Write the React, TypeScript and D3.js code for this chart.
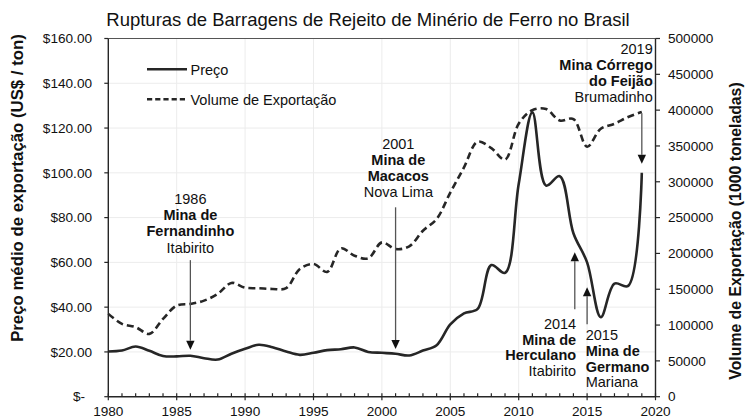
import React from "react";
import * as d3 from "d3";

const years = [1980,1981,1982,1983,1984,1985,1986,1987,1988,1989,1990,1991,1992,1993,1994,1995,1996,1997,1998,1999,2000,2001,2002,2003,2004,2005,2006,2007,2008,2009,2010,2011,2012,2013,2014,2015,2016,2017,2018,2019];
const price = [20.2,20.6,22.4,20.5,18.2,18.0,18.3,17.2,16.6,19.2,21.4,23.2,22.1,20.2,18.7,19.6,20.8,21.2,22.0,20.0,19.6,19.2,18.4,20.6,23.0,32.3,37.2,39.2,58.8,55.3,95.0,127.0,94.3,98.5,73.0,60.0,35.5,50.5,49.5,100.0];
const volume = [115600,101700,97000,87700,108600,127200,129500,134100,143500,158800,152200,151400,150400,151500,178300,185200,174100,207100,196800,193200,215400,206100,209900,231700,248000,285000,320000,356000,347000,331000,381000,400000,401500,385500,387500,349000,374000,381000,390400,397400];

const xTicks = [1980,1985,1990,1995,2000,2005,2010,2015,2020];
const priceTicks = [0,20,40,60,80,100,120,140,160];
const priceTickLabels = ["$-","$20.00","$40.00","$60.00","$80.00","$100.00","$120.00","$140.00","$160.00"];
const volumeTicks = [0,50000,100000,150000,200000,250000,300000,350000,400000,450000,500000];

const title = "Rupturas de Barragens de Rejeito de Minério de Ferro no Brasil";
const leftTitle = "Preço médio de exportação (US$ / ton)";
const rightTitle = "Volume de Exportação (1000 toneladas)";
const legendLabels = ["Preço", "Volume de Exportação"];

type Ann = { year: number; lines: string[]; bold: boolean[]; from: number; to: number; tx: number; ty: number; anchor: string; dy: number };
const annotations: Ann[] = [
  { year: 1986, lines: ["1986", "Mina de", "Fernandinho", "Itabirito"], bold: [false, true, true, false], from: 61, to: 21, tx: 1986, ty: 204, anchor: "middle", dy: 16.2 },
  { year: 2001, lines: ["2001", "Mina de", "Macacos", "Nova Lima"], bold: [false, true, true, false], from: 84.6, to: 21.3, tx: 2001.2, ty: 148.5, anchor: "middle", dy: 16.1 },
  { year: 2014.1, lines: ["2014", "Mina de", "Herculano", "Itabirito"], bold: [false, true, true, false], from: 39.1, to: 64.5, tx: 2014.2, ty: 329, anchor: "end", dy: 15.7 },
  { year: 2015, lines: ["2015", "Mina de", "Germano", "Mariana"], bold: [false, true, true, false], from: 32.4, to: 48.9, tx: 2014.9, ty: 340, anchor: "start", dy: 15.8 },
  { year: 2019, lines: ["2019", "Mina Córrego", "do Feijão", "Brumadinho"], bold: [false, true, true, false], from: 126.6, to: 104.1, tx: 2019.8, ty: 54, anchor: "end", dy: 15.9 },
];

const W = 746, H = 418;
const L = 108.3, R = 655.5, T = 38.5, B = 396.7;
const FONT = "'Liberation Sans', Arial, Helvetica, sans-serif";
const INK = "#262626";

export default function App() {
  const x = d3.scaleLinear().domain([1980, 2020]).range([L, R]);
  const yP = d3.scaleLinear().domain([0, 160]).range([B, T]);
  const yV = d3.scaleLinear().domain([0, 500000]).range([B, T]);

  const priceLine = d3.line<number>().x((_, i) => x(years[i])).y((d) => yP(d)).curve(d3.curveCatmullRom.alpha(0.5));
  const volLine = d3.line<number>().x((_, i) => x(years[i])).y((d) => yV(d)).curve(d3.curveCatmullRom.alpha(0.5));

  const minorYears = d3.range(1980, 2021);

  return (
    <svg width={W} height={H} style={{ position: "absolute", left: 0, top: 0, background: "#fff" }} fontFamily={FONT}>
      <rect width={W} height={H} fill="#fff" />
      {/* grid */}
      {xTicks.filter((t) => t > 1980 && t < 2020).map((t) => (
        <line key={"gx" + t} x1={x(t)} x2={x(t)} y1={T} y2={B} stroke="#ececec" strokeWidth={1} />
      ))}
      {priceTicks.filter((t) => t > 0 && t < 160).map((t) => (
        <line key={"gy" + t} x1={L} x2={R} y1={yP(t)} y2={yP(t)} stroke="#ececec" strokeWidth={1} />
      ))}
      {/* frame */}
      <line x1={L} x2={R} y1={T} y2={T} stroke="#555" strokeWidth={1.2} />
      <line x1={L} x2={L} y1={T} y2={B} stroke={INK} strokeWidth={1.4} />
      <line x1={R} x2={R} y1={T} y2={B} stroke={INK} strokeWidth={1.4} />
      <line x1={L} x2={R} y1={B} y2={B} stroke={INK} strokeWidth={1.4} />
      {/* x ticks */}
      {minorYears.map((t) => (
        <line key={"mx" + t} x1={x(t)} x2={x(t)} y1={B - 3.5} y2={t % 5 === 0 ? B + 3.5 : B} stroke={INK} strokeWidth={1.2} />
      ))}
      {xTicks.map((t) => (
        <text key={"xl" + t} x={x(t)} y={415.5} textAnchor="middle" fontSize={13.6} fill="#111">{t}</text>
      ))}
      {/* left ticks */}
      {priceTicks.map((t, i) => (
        <g key={"yl" + t}>
          <line x1={L - 4} x2={L} y1={yP(t)} y2={yP(t)} stroke={INK} strokeWidth={1.2} />
          <text x={t === 0 ? 85 : 92} y={yP(t)} dy="0.35em" textAnchor="end" fontSize={13.6} fill="#111">{priceTickLabels[i]}</text>
        </g>
      ))}
      {/* right ticks */}
      {volumeTicks.map((t) => (
        <g key={"yr" + t}>
          <line x1={R} x2={R + 4.5} y1={yV(t)} y2={yV(t)} stroke={INK} strokeWidth={1.2} />
          <text x={668} y={yV(t)} dy="0.35em" textAnchor="start" fontSize={13.6} fill="#111">{t}</text>
        </g>
      ))}
      {/* data */}
      <path d={volLine(volume) || ""} fill="none" stroke={INK} strokeWidth={2.6} strokeDasharray="7,4" />
      <path d={priceLine(price) || ""} fill="none" stroke={INK} strokeWidth={2.6} />
      {/* annotations */}
      {annotations.map((a, k) => {
        const ax = x(a.year);
        const y0 = yP(a.from);
        const y1 = yP(a.to);
        const dir = y1 > y0 ? 1 : -1;
        const hb = y1 - dir * 9;
        return (
          <g key={"an" + k}>
            <line x1={ax} x2={ax} y1={y0} y2={hb} stroke="#555" strokeWidth={1.3} />
            <path d={`M${ax - 4.2},${hb}L${ax + 4.2},${hb}L${ax},${y1}Z`} fill="#111" />
            {a.lines.map((s, i) => (
              <text key={i} x={x(a.tx)} y={a.ty + i * a.dy} textAnchor={a.anchor as any} fontSize={14.5} fontWeight={a.bold[i] ? "bold" : "normal"} fill="#111">{s}</text>
            ))}
          </g>
        );
      })}
      {/* legend */}
      <line x1={147} x2={187} y1={69.3} y2={69.3} stroke={INK} strokeWidth={2.6} />
      <text x={190.5} y={74.5} fontSize={14.5} fill="#111">{legendLabels[0]}</text>
      <line x1={147} x2={187} y1={99.3} y2={99.3} stroke={INK} strokeWidth={2.6} strokeDasharray="5.2,3" />
      <text x={190.5} y={104.5} fontSize={14.5} fill="#111">{legendLabels[1]}</text>
      {/* titles */}
      <text x={368} y={26} textAnchor="middle" fontSize={18.5} fill="#111">{title}</text>
      <text transform={`translate(17,188) rotate(-90)`} textAnchor="middle" dy="0.35em" fontSize={16.8} fontWeight="bold" fill="#111">{leftTitle}</text>
      <text transform={`translate(735.5,231) rotate(-90)`} textAnchor="middle" dy="0.35em" fontSize={15.8} fontWeight="bold" fill="#111">{rightTitle}</text>
    </svg>
  );
}
